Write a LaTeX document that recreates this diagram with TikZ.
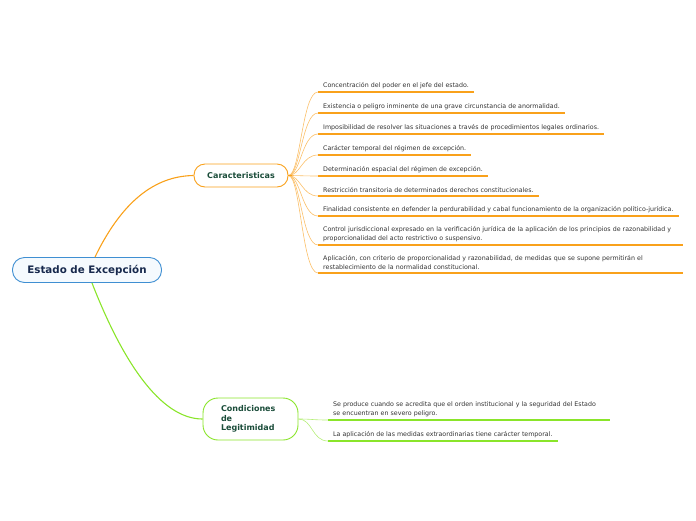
\documentclass[tikz,border=0pt]{standalone}
\usepackage{fontspec}
\setmainfont{DejaVu Sans}

\definecolor{rootblue}{HTML}{3F8FD2}
\definecolor{rootfill}{HTML}{F5FAFE}
\definecolor{rootink}{HTML}{17294D}
\definecolor{topicink}{HTML}{1B4D3A}
\definecolor{carorange}{HTML}{F9A11B}
\definecolor{carlight}{HTML}{FBC06A}
\definecolor{conlime}{HTML}{8AE52A}
\definecolor{conlight}{HTML}{B5EE78}
\definecolor{leafink}{HTML}{333333}

\tikzset{
    rootbox/.style={draw=rootblue, fill=rootfill, line width=0.9pt, rounded corners=12pt,
        minimum width=149pt, minimum height=25pt, text=rootink,
        font=\fontsize{10.3}{12}\selectfont\bfseries},
    topicbox/.style={draw=#1, fill=white, line width=0.9pt, text=topicink,
        font=\fontsize{8}{9.7}\selectfont\bfseries},
    leaf/.style={anchor=south west, inner xsep=5pt, inner ysep=3pt, text=leafink,
        font=\fontsize{6.3}{9}\selectfont, align=left,
        append after command={(\tikzlastnode.south west) edge[draw=#1, line width=1.6pt]
            (\tikzlastnode.south east)}},
    mainbranch/.style={draw=#1, line width=1.1pt},
    leafbranch/.style={draw=#1, line width=0.6pt},
}

\begin{document}
\begin{tikzpicture}[x=1pt, y=-1pt]
    \useasboundingbox (0,0) rectangle (696,520);
    % Central topic and main topics:
    \node[rootbox] (root) at (87,270) {Estado de Excepción};
    \node[topicbox=carorange, rounded corners=11pt, minimum width=94pt, minimum height=23pt]
        (car) at (241,175.5) {Caracteristicas};
    \node[topicbox=conlime, rounded corners=15pt, minimum width=95pt, minimum height=42pt,
        text width=59pt, align=left] (con) at (250.5,419) {Condiciones\\de\\Legitimidad};
    \draw[mainbranch=carorange] ([xshift=8pt]root.north) .. controls (125,195) and (160,176) .. (car.west);
    \draw[mainbranch=conlime] ([xshift=5pt]root.south) .. controls (122,360) and (160,419) .. (con.west);

    % Caracteristicas leaves:
    \node[leaf=carorange] (c1) at (318,92) {Concentración del poder en el jefe del estado.};
    \node[leaf=carorange] (c2) at (318,113) {Existencia o peligro inminente de una grave circunstancia de anormalidad.};
    \node[leaf=carorange] (c3) at (318,134) {Imposibilidad de resolver las situaciones a través de procedimientos legales ordinarios.};
    \node[leaf=carorange] (c4) at (318,155) {Carácter temporal del régimen de excepción.};
    \node[leaf=carorange] (c5) at (318,176) {Determinación espacial del régimen de excepción.};
    \node[leaf=carorange] (c6) at (318,196) {Restricción transitoria de determinados derechos constitucionales.};
    \node[leaf=carorange] (c7) at (318,216) {Finalidad consistente en defender la perdurabilidad y cabal funcionamiento de la organización político-jurídica.};
    \node[leaf=carorange, text width=355pt] (c8) at (318,245) {Control jurisdiccional expresado en la verificación jurídica de la aplicación de los principios de razonabilidad y\\proporcionalidad del acto restrictivo o suspensivo.};
    \node[leaf=carorange, text width=355pt] (c9) at (318,273) {Aplicación, con criterio de proporcionalidad y razonabilidad, de medidas que se supone permitirán el\\restablecimiento de la normalidad constitucional.};
    \foreach \leafname in {c1,c2,c3,c4,c5,c6,c7,c8,c9}
        \draw[leafbranch=carlight] (car.east) .. controls +(12,0) and ([xshift=-16pt]\leafname.south west) .. (\leafname.south west);
    \draw[carorange, line width=1.6pt] (car.east) -- +(4,0);

    % Condiciones leaves:
    \node[leaf=conlime, text width=272pt] (l1) at (328,420) {Se produce cuando se acredita que el orden institucional y la seguridad del Estado\\se encuentran en severo peligro.};
    \node[leaf=conlime] (l2) at (328,441) {La aplicación de las medidas extraordinarias tiene carácter temporal.};
    \foreach \leafname in {l1,l2}
        \draw[leafbranch=conlight] (con.east) .. controls +(14,0) and ([xshift=-16pt]\leafname.south west) .. (\leafname.south west);
\end{tikzpicture}
\end{document}
